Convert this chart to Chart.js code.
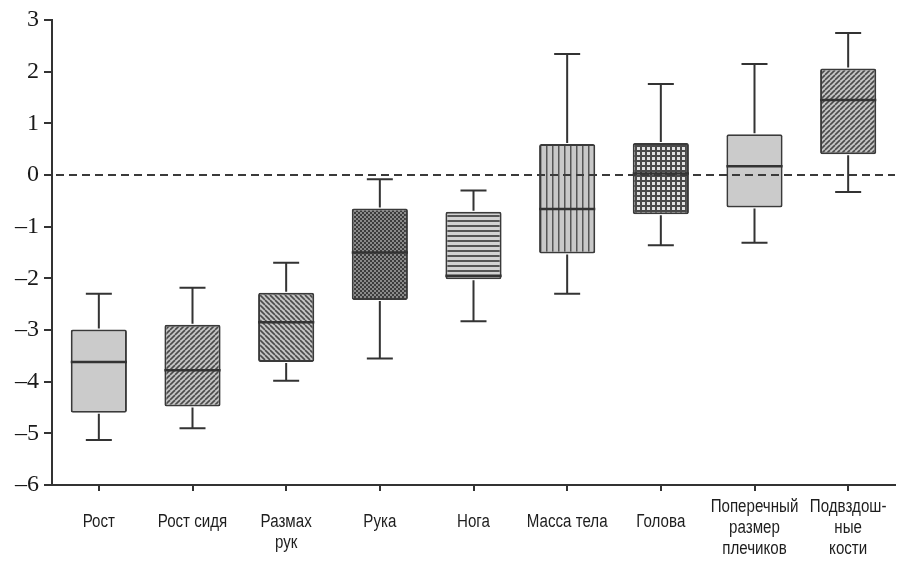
<!DOCTYPE html>
<html>
<head>
<meta charset="utf-8">
<script src="https://cdn.jsdelivr.net/npm/chart.js@4.4.1/dist/chart.umd.min.js"></script>
<style>
  html, body { margin: 0; padding: 0; background: #fff; }
  #wrap { width: 907px; height: 572px; position: relative; }
</style>
</head>
<body>
<div id="wrap"><canvas id="c"></canvas></div>
<script>
// Categories (multi-line labels)
const categories = [
  ['Рост'],
  ['Рост сидя'],
  ['Размах', 'рук'],
  ['Рука'],
  ['Нога'],
  ['Масса тела'],
  ['Голова'],
  ['Поперечный', 'размер', 'плечиков'],
  ['Подвздош-', 'ные', 'кости']
];

// Five-number summaries (SD units)
const whiskerLow  = [-5.13, -4.90, -3.98, -3.55, -2.83, -2.30, -1.36, -1.31, -0.33];
const quartile1   = [-4.60, -4.48, -3.62, -2.42, -2.02, -1.52, -0.76, -0.63,  0.40];
const medians     = [-3.62, -3.78, -2.85, -1.50, -1.95, -0.66,  0.03,  0.17,  1.45];
const quartile3   = [-2.99, -2.90, -2.28, -0.65, -0.71,  0.60,  0.62,  0.79,  2.06];
const whiskerHigh = [-2.30, -2.18, -1.70, -0.08, -0.30,  2.34,  1.76,  2.15,  2.75];

// Y axis range and the reference line value
const yTicks = [-6, -5, -4, -3, -2, -1, 0, 1, 2, 3];
const referenceValue = 0;

// --- fill patterns ---
const ctxMain = document.getElementById('c').getContext('2d');
function pat(size, draw) {
  const c = document.createElement('canvas');
  c.width = size; c.height = size;
  draw(c.getContext('2d'), size);
  return ctxMain.createPattern(c, 'repeat');
}
const solidGray = '#cbcbcb';
const hatchFwd = pat(5, (g, s) => {
  g.fillStyle = '#c4c4c4'; g.fillRect(0, 0, s, s);
  g.strokeStyle = '#4a4a4a'; g.lineWidth = 1.6;
  for (let o = -s; o <= s; o += s) {
    g.beginPath(); g.moveTo(o, s); g.lineTo(o + s, 0); g.stroke();
  }
});
const hatchBack = pat(5, (g, s) => {
  g.fillStyle = '#c4c4c4'; g.fillRect(0, 0, s, s);
  g.strokeStyle = '#4a4a4a'; g.lineWidth = 1.6;
  for (let o = -s; o <= s; o += s) {
    g.beginPath(); g.moveTo(o, 0); g.lineTo(o + s, s); g.stroke();
  }
});
const checker = pat(4, (g, s) => {
  g.fillStyle = '#3c3c3c'; g.fillRect(0, 0, s, s);
  g.fillStyle = '#8a8a8a'; g.fillRect(0, 0, 2, 2); g.fillRect(2, 2, 2, 2);
});
const hStripes = pat(5, (g, s) => {
  g.fillStyle = '#d2d2d2'; g.fillRect(0, 0, s, s);
  g.fillStyle = '#555'; g.fillRect(0, 0, s, 2);
});
const vStripes = pat(6, (g, s) => {
  g.fillStyle = '#c8c8c8'; g.fillRect(0, 0, s, s);
  g.fillStyle = '#555'; g.fillRect(0, 0, 1.5, s);
});
const gridPat = pat(5, (g, s) => {
  g.fillStyle = '#e2e2e2'; g.fillRect(0, 0, s, s);
  g.fillStyle = '#4a4a4a'; g.fillRect(0, 0, s, 2); g.fillRect(0, 0, 2, s);
});
const boxFills = [solidGray, hatchFwd, hatchBack, checker, hStripes, vStripes, gridPat, solidGray, hatchFwd];

const ink = '#333';

// whiskers, medians, zero line and category labels
const boxExtras = {
  id: 'boxExtras',
  afterDatasetsDraw(chart) {
    const { ctx, scales: { x, y }, chartArea } = chart;
    const meta = chart.getDatasetMeta(0);
    ctx.save();
    ctx.strokeStyle = ink;
    ctx.lineCap = 'butt';
    categories.forEach((_, i) => {
      const cx = x.getPixelForValue(i);
      const bar = meta.data[i];
      const half = bar.width / 2;
      const cap = 13;
      const yLo = y.getPixelForValue(whiskerLow[i]);
      const yQ1 = y.getPixelForValue(quartile1[i]);
      const yQ3 = y.getPixelForValue(quartile3[i]);
      const yHi = y.getPixelForValue(whiskerHigh[i]);
      const yMd = y.getPixelForValue(medians[i]);
      ctx.lineWidth = 2;
      ctx.beginPath();
      ctx.moveTo(cx, yQ3 - 1); ctx.lineTo(cx, yHi);
      ctx.moveTo(cx - cap, yHi); ctx.lineTo(cx + cap, yHi);
      ctx.moveTo(cx, yQ1 + 1); ctx.lineTo(cx, yLo);
      ctx.moveTo(cx - cap, yLo); ctx.lineTo(cx + cap, yLo);
      ctx.stroke();
      ctx.lineWidth = 2.5;
      ctx.beginPath();
      ctx.moveTo(cx - half, yMd); ctx.lineTo(cx + half, yMd);
      ctx.stroke();
    });
    // dashed reference line
    const y0 = y.getPixelForValue(referenceValue);
    ctx.lineWidth = 2;
    ctx.strokeStyle = '#3a3a3a';
    ctx.setLineDash([8, 5]);
    ctx.beginPath();
    ctx.moveTo(chartArea.left + 4, y0); ctx.lineTo(chartArea.right, y0);
    ctx.stroke();
    ctx.setLineDash([]);
    ctx.restore();
  },
  afterDraw(chart) {
    const { ctx, scales: { x } } = chart;
    ctx.save();
    ctx.fillStyle = '#1e1e1e';
    ctx.font = '18px "Liberation Sans", Arial, sans-serif';
    ctx.textAlign = 'center';
    ctx.textBaseline = 'middle';
    categories.forEach((lines, i) => {
      const cx = x.getPixelForValue(i);
      const top = lines.length >= 3 ? 507 : 522;
      const step = 21;
      lines.forEach((t, k) => {
        // narrow face: squeeze horizontally around the label centre
        ctx.save();
        ctx.translate(cx, top + k * step);
        ctx.scale(0.84, 1);
        ctx.fillText(t, 0, 0);
        ctx.restore();
      });
    });
    ctx.restore();
  }
};

new Chart(ctxMain, {
  type: 'bar',
  data: {
    labels: categories.map(l => l.join(' ')),
    datasets: [{
      data: quartile1.map((q, i) => [q, quartile3[i]]),
      backgroundColor: boxFills,
      borderColor: '#3a3a3a',
      borderWidth: 2,
      borderSkipped: false,
      borderRadius: 2,
      barPercentage: 0.6,
      categoryPercentage: 1
    }]
  },
  options: {
    responsive: true,
    maintainAspectRatio: false,
    animation: false,
    devicePixelRatio: 1,
    layout: { padding: { top: 20, right: 12, left: 0, bottom: 0 } },
    plugins: { legend: { display: false }, tooltip: { enabled: false } },
    scales: {
      x: {
        type: 'category',
        offset: true,
        grid: { display: true, offset: false, drawOnChartArea: false, drawTicks: true, tickLength: 6, color: ink, lineWidth: 2 },
        border: { display: true, color: ink, width: 2 },
        ticks: { display: false },
        afterFit(s) { s.height = 87; }
      },
      y: {
        min: yTicks[0],
        max: yTicks[yTicks.length - 1],
        afterBuildTicks(s) { s.ticks = yTicks.map(v => ({ value: v })); },
        grid: { display: true, drawOnChartArea: false, drawTicks: true, tickLength: 8, color: ink, lineWidth: 2 },
        border: { display: true, color: ink, width: 2 },
        ticks: {
          color: '#1a1a1a',
          padding: 5,
          font: { family: '"Liberation Serif", "Times New Roman", serif', size: 24 },
          callback: v => (v < 0 ? '\u2013' + Math.abs(v) : String(v))
        },
        afterFit(s) { s.width = 52; }
      }
    }
  },
  plugins: [boxExtras]
});
</script>
</body>
</html>
